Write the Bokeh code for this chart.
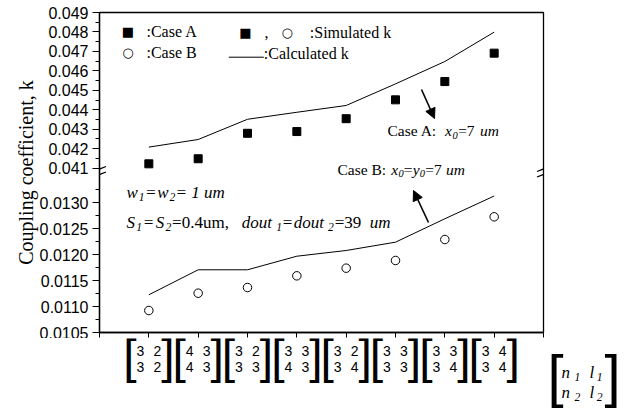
import math
from bokeh.plotting import figure
from bokeh.layouts import column
from bokeh.models import (Range1d, FixedTicker, CustomJSTickFormatter, Label, Arrow, NormalHead,
                          Title)
from bokeh.embed import file_html
from bokeh.resources import INLINE

# ---------------- data ----------------
positions = [1, 2, 3, 4, 5, 6, 7, 8]
matrix_top_row = ["3 2", "4 3", "3 2", "3 3", "3 2", "3 3", "3 3", "3 4"]
matrix_bottom_row = ["3 2", "4 3", "3 3", "4 3", "3 4", "3 3", "3 4", "3 4"]

case_a_simulated = [0.04122, 0.04148, 0.04279, 0.04288, 0.04354, 0.04451, 0.04545, 0.04691]
case_a_calculated = [0.04208, 0.04247, 0.04351, 0.04387, 0.04422, 0.04533, 0.04648, 0.04799]
case_b_simulated = [0.010923, 0.011256, 0.011365, 0.011590, 0.011737, 0.011885, 0.012288, 0.012725]
case_b_calculated = [0.011225, 0.011706, 0.011706, 0.011967, 0.012077, 0.012237, 0.012687, 0.013125]

upper_major_ticks = [0.041, 0.042, 0.043, 0.044, 0.045, 0.046, 0.047, 0.048, 0.049]
upper_tick_labels = ["0.041", "0.042", "0.043", "0.044", "0.045", "0.046", "0.047", "0.048", "0.049"]
upper_minor_ticks = [0.0415, 0.0425, 0.0435, 0.0445, 0.0455, 0.0465, 0.0475, 0.0485]
lower_major_ticks = [0.0105, 0.0110, 0.0115, 0.0120, 0.0125, 0.0130]
lower_tick_labels = ["0.0105", "0.0110", "0.0115", "0.0120", "0.0125", "0.0130"]
lower_minor_ticks = [0.01075, 0.01125, 0.01175, 0.01225, 0.01275, 0.01325]

# ---------------- layout ----------------
W, H = 633, 408
H1 = 338                      # main figure height; the tick-label strip below takes the rest
L, R, T, B = 99, 90, 12, 6
FW, FH = W - L - R, H1 - T - B
X_START, X_END = 0, 9
UPPER_END, UPPER_PX = 0.049, 19.45   # px per 0.001
LOWER_START, LOWER_PX = 0.0105, 52.0

upper_range = Range1d(UPPER_END - FH / (UPPER_PX * 1000), UPPER_END)
lower_range = Range1d(LOWER_START, LOWER_START + FH / (LOWER_PX * 1000))
U_SPAN = upper_range.end - upper_range.start
L_SPAN = lower_range.end - lower_range.start
PXU = FW / (X_END - X_START)


def to_lower(v):
    return lower_range.start + (v - upper_range.start) * L_SPAN / U_SPAN


def X(px):
    return X_START + (px - L) / PXU


def Y(py):
    return lower_range.start + (T + FH - py) * L_SPAN / FH


p = figure(width=W, height=H1, x_range=Range1d(X_START, X_END), y_range=lower_range,
           output_backend="svg", toolbar_location=None, frame_align=False,
           min_border_left=L, min_border_right=R, min_border_top=T, min_border_bottom=B)
p.extra_y_ranges = {"upper": upper_range}
p.grid.visible = False
p.outline_line_color = "black"
p.outline_line_width = 1.3
p.background_fill_color = "white"
p.border_fill_color = "white"

# glyphs
p.line(positions, case_a_calculated, y_range_name="upper", line_color="black", line_width=1)
p.scatter(positions, case_a_simulated, y_range_name="upper", marker="square", size=8,
          fill_color="black", line_color="black")
p.line(positions, case_b_calculated, line_color="black", line_width=1)
p.scatter(positions, case_b_simulated, marker="circle", size=8.5,
          fill_color="white", line_color="black", line_width=1)

# y axis (broken)
tick_pos = lower_major_ticks + [to_lower(t) for t in upper_major_ticks]
tick_lab = lower_tick_labels + upper_tick_labels
minor_pos = lower_minor_ticks + [to_lower(t) for t in upper_minor_ticks]
yax = p.yaxis[0]
yax.ticker = FixedTicker(ticks=tick_pos, minor_ticks=minor_pos)
yax.formatter = CustomJSTickFormatter(args=dict(pos=tick_pos, lab=tick_lab), code="""
let best = 0, bd = Infinity;
for (let i = 0; i < pos.length; i++) { const d = Math.abs(pos[i] - tick); if (d < bd) { bd = d; best = i; } }
return lab[best];
""")
yax.major_label_text_font = "Liberation Sans"
yax.major_label_text_font_size = "16px"
yax.major_label_text_color = "black"
yax.major_label_standoff = 4
yax.major_tick_out = 7
yax.major_tick_in = 0
yax.minor_tick_out = 4
yax.minor_tick_in = 0
yax.axis_line_width = 1.3
yax.axis_line_color = "black"
yax.major_tick_line_color = "black"
yax.minor_tick_line_color = "black"

p.add_layout(Title(text="Coupling coefficient, k", align="center", offset=-10, standoff=0,
                   text_font="Liberation Serif", text_font_style="normal",
                   text_font_size="20px", text_color="black"), "left")

xax = p.xaxis[0]
xax.ticker = FixedTicker(ticks=list(range(X_START, X_END + 1)), minor_ticks=[])
xax.formatter = CustomJSTickFormatter(code="return ''")
xax.major_label_text_font_size = "0px"
xax.major_label_standoff = 0
xax.major_tick_out = 5
xax.major_tick_in = 0
xax.axis_line_width = 1.3
xax.axis_line_color = "black"
xax.major_tick_line_color = "black"

# ---------------- strip under the plot for the matrix tick labels ----------------
H2 = H - H1
q = figure(width=W, height=H2, x_range=Range1d(X(0), X(W)), y_range=Range1d(0, H2),
           output_backend="svg", toolbar_location=None, frame_align=False,
           x_axis_location=None, y_axis_location=None,
           min_border_left=0, min_border_right=0, min_border_top=0, min_border_bottom=0)
q.grid.visible = False
q.outline_line_color = None
q.background_fill_color = "white"
q.border_fill_color = "white"


def QY(py):
    return H - py


# ---------------- text helpers ----------------
SERIF_N = {' ': 250, ',': 250, '.': 250, ':': 278, '=': 564, 'A': 722, 'B': 667, 'C': 667,
           'S': 556, 'a': 444, 'd': 500, 'e': 444, 'm': 778, 'o': 500, 's': 389, 't': 278,
           'u': 500, 'x': 500, 'y': 500, 'k': 500, 'n': 500, 'l': 278, 'i': 278}
SERIF_I = {' ': 250, '=': 675, 'S': 500, 'w': 667, 'd': 500, 'o': 500, 'u': 500, 't': 278,
           'm': 722, 'x': 444, 'y': 444, 'n': 500, 'l': 278}


def tw(s, italic, size):
    tab = SERIF_I if italic else SERIF_N
    return sum(tab.get(c, 500) for c in s) / 1000.0 * size


def rich(fig, yfun, x0, yc, pieces, size, width=None):
    sub_size = 0.68 * size
    widths = [tw(t, it, sub_size if sb else size) for t, it, sb in pieces]
    k = (width / sum(widths)) if width else 1.0
    x = x0
    for (t, it, sb), w in zip(pieces, widths):
        fs = sub_size if sb else size
        yy = yc + (0.3 * size if sb else 0)
        fig.add_layout(Label(x=X(x), y=yfun(yy), text=t, text_font="Liberation Serif",
                             text_font_style="italic" if it else "normal",
                             text_font_size=f"{fs:.1f}px", text_color="black",
                             text_align="left", text_baseline="middle"))
        x += w * k


def lab(fig, yfun, px, py, text, font="Liberation Serif", size=16, align="left",
        baseline="middle", style="normal"):
    fig.add_layout(Label(x=X(px), y=yfun(py), text=text, text_font=font,
                         text_font_size=f"{size}px", text_align=align,
                         text_baseline=baseline, text_font_style=style, text_color="black"))


def seg(x0, y0, x1, y1, width=1.3, head=None):
    p.add_layout(Arrow(x_start=X(x0), y_start=Y(y0), x_end=X(x1), y_end=Y(y1),
                       start=None, end=head, line_color="black", line_width=width))


# legend
lab(p, Y, 127.3, 31, "■", font="DejaVu Sans", size=13, align="center")
lab(p, Y, 146, 31, ":Case A")
lab(p, Y, 127.3, 51.7, "○", font="DejaVu Sans", size=13, align="center")
lab(p, Y, 146, 51.7, ":Case B")
lab(p, Y, 245, 31.7, "■", font="DejaVu Sans", size=13, align="center")
lab(p, Y, 264, 31.7, ",")
lab(p, Y, 286.7, 31.7, "○", font="DejaVu Sans", size=13, align="center")
lab(p, Y, 309.3, 31.7, ":Simulated k")
seg(228.3, 56.7, 263.3, 56.7, width=1)
lab(p, Y, 263.3, 53, ":Calculated k")

# annotations
rich(p, Y, 126, 191.5, [("w", True, 0), ("1", True, 1), ("=", True, 0), ("w", True, 0), ("2", True, 1),
                        ("= 1 um", True, 0)], 17, width=102)
rich(p, Y, 126, 221.5, [("S", True, 0), ("1", True, 1), ("=", True, 0), ("S", True, 0), ("2", True, 1),
                        ("=0.4um, ", False, 0), ("dout", True, 0), ("1", True, 1), ("=", False, 0),
                        ("dout", True, 0), ("2", True, 1), ("=39 ", False, 0), ("um", True, 0)],
     17, width=267)
rich(p, Y, 387, 130, [("Case A: ", False, 0), ("x", True, 0), ("0", True, 1), ("=7 ", False, 0),
                      ("um", True, 0)], 15.5, width=113)
rich(p, Y, 337, 168.5, [("Case B: ", False, 0), ("x", True, 0), ("0", True, 1), ("=", False, 0),
                        ("y", True, 0), ("0", True, 1), ("=7 ", False, 0), ("um", True, 0)],
     15.5, width=128)

seg(421, 89, 434, 118, width=1.6, head=NormalHead(size=10, fill_color="black", line_color="black"))
seg(428, 222, 413, 190, width=1.6, head=NormalHead(size=10, fill_color="black", line_color="black"))

# axis break marks
for bx in (L, L + FW):
    seg(bx - 6.5, 171, bx + 6.5, 166)
    seg(bx - 6.5, 176.5, bx + 6.5, 171.5)

# x tick labels: matrices (in the strip)
for i, r1, r2 in zip(positions, matrix_top_row, matrix_bottom_row):
    cx = L + (i - X_START) * PXU
    for row, yc in ((r1, 350.5), (r2, 366)):
        a, b = row.split()
        lab(q, QY, cx - 8.5, yc, a, font="Liberation Sans", size=14, align="center")
        lab(q, QY, cx + 8.5, yc, b, font="Liberation Sans", size=14, align="center")
    lab(q, QY, cx - 19, 356, "[", font="Liberation Sans", size=48, align="center")
    lab(q, QY, cx + 19, 356, "]", font="Liberation Sans", size=48, align="center")

# matrix key
lab(q, QY, 555, 375, "[", font="Liberation Sans", size=58, align="center")
lab(q, QY, 612, 375, "]", font="Liberation Sans", size=58, align="center")
rich(q, QY, 561, 371.7, [("n", True, 0), ("1", True, 1), (" ", True, 0), ("l", True, 0), ("1", True, 1)],
     17, width=44)
rich(q, QY, 561, 391.7, [("n", True, 0), ("2", True, 1), (" ", True, 0), ("l", True, 0), ("2", True, 1)],
     17, width=44)

layout = column(p, q, spacing=0)
open("out.html", "w").write(file_html(layout, INLINE))
